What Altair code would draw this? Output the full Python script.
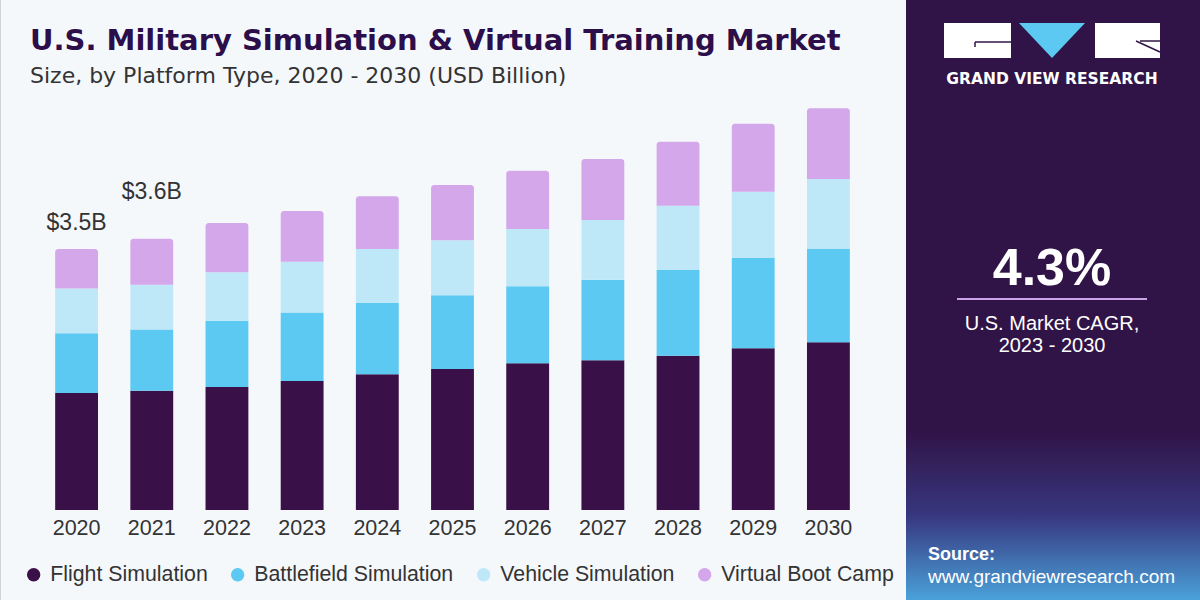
import altair as alt
import pandas as pd

# ---- data (USD billion) ----
years = ["2020", "2021", "2022", "2023", "2024", "2025", "2026", "2027", "2028", "2029", "2030"]
series = ["Flight Simulation", "Battlefield Simulation", "Vehicle Simulation", "Virtual Boot Camp"]
flight = [1.57, 1.60, 1.65, 1.73, 1.82, 1.89, 1.97, 2.01, 2.07, 2.17, 2.25]
battlefield = [0.80, 0.82, 0.89, 0.92, 0.96, 0.99, 1.03, 1.08, 1.15, 1.21, 1.25]
vehicle = [0.60, 0.60, 0.65, 0.68, 0.72, 0.74, 0.77, 0.80, 0.86, 0.89, 0.94]
boot_camp = [0.53, 0.62, 0.66, 0.68, 0.71, 0.74, 0.78, 0.82, 0.86, 0.91, 0.95]
colors = ["#3a1048", "#5cc9f2", "#bee8f8", "#d3a7ea"]

rows = []
for i, yr in enumerate(years):
    for k, vals in enumerate([flight, battlefield, vehicle, boot_camp]):
        rows.append({"year": yr, "series": series[k], "order": k, "value": vals[i]})
df = pd.DataFrame(rows)

# plot-area origin on the 1200x600 canvas
PX, PY = 39, 100
W, H = 827, 410
FONT = "Liberation Sans"
PANEL = "#311447"

stacked = alt.Chart(df).transform_stack(
    stack="value", groupby=["year"],
    sort=[alt.SortField("order", order="ascending")], as_=["y0", "y1"]
)

x_enc = alt.X(
    "year:N", sort=years,
    scale=alt.Scale(paddingInner=0.43, paddingOuter=0.215),
    axis=alt.Axis(title=None, labelAngle=0, domain=False, ticks=False,
                  labelFontSize=21.5, labelColor="#333333", labelFont=FONT,
                  labelPadding=7),
)
y_scale = alt.Scale(domain=[0, 5.5], nice=False, zero=True)
color_enc = alt.Color(
    "series:N", sort=series,
    scale=alt.Scale(domain=series, range=colors),
    legend=alt.Legend(title=None, orient="none", legendX=-16, legendY=464,
                      direction="horizontal", symbolType="circle", symbolSize=180,
                      symbolStrokeWidth=0, symbolOpacity=1, labelFontSize=21.3,
                      labelColor="#333333", labelFont=FONT, columnPadding=19,
                      labelOffset=6, labelLimit=0),
)

lower_bars = stacked.transform_filter(alt.datum.order < 3).mark_bar().encode(
    x=x_enc, y=alt.Y("y1:Q", scale=y_scale, axis=None), y2="y0:Q", color=color_enc
)
top_bars = stacked.transform_filter(alt.datum.order == 3).mark_bar(
    cornerRadiusTopLeft=3, cornerRadiusTopRight=3
).encode(x=x_enc, y=alt.Y("y1:Q", scale=y_scale, axis=None), y2="y0:Q", color=color_enc)

totals = alt.Chart(df).transform_aggregate(
    total="sum(value)", groupby=["year"]
).transform_calculate(
    label="'$' + format(datum.total, '.1f') + 'B'"
)


def total_label(year, lift):
    return totals.transform_filter(alt.datum.year == year).mark_text(
        baseline="alphabetic", fontSize=23, font=FONT, color="#333333", dy=-lift
    ).encode(x=alt.X("year:N", sort=years), y=alt.Y("total:Q", scale=y_scale), text="label:N")


one = pd.DataFrame({"t": [0]})


def text_at(txt, x, y, size, color, weight="normal", align="left", font=FONT):
    return alt.Chart(pd.DataFrame({"t": [txt]})).mark_text(
        align=align, baseline="alphabetic", fontSize=size, fontWeight=weight,
        font=font, color=color
    ).encode(x=alt.value(x - PX), y=alt.value(y - PY), text="t:N")


def box(x1, x2, y1, y2, color):
    return alt.Chart(one).mark_rect(color=color).encode(
        x=alt.value(x1 - PX), x2=alt.value(x2 - PX), y=alt.value(y1 - PY), y2=alt.value(y2 - PY)
    )


def line(x1, y1, x2, y2, color, width):
    return alt.Chart(one).mark_rule(color=color, strokeWidth=width).encode(
        x=alt.value(x1 - PX), x2=alt.value(x2 - PX), y=alt.value(y1 - PY), y2=alt.value(y2 - PY)
    )


# right-hand side panel with a gradient toward blue at the bottom
panel_fill = alt.LinearGradient(
    gradient="linear", x1=0, x2=0, y1=0, y2=1,
    stops=[alt.GradientStop(offset=0, color=PANEL),
           alt.GradientStop(offset=0.72, color=PANEL),
           alt.GradientStop(offset=0.86, color="#37377f"),
           alt.GradientStop(offset=1, color="#4aa2da")],
)
panel = alt.Chart(one).mark_rect(color=panel_fill).encode(
    x=alt.value(906 - PX), x2=alt.value(1200 - PX), y=alt.value(-PY), y2=alt.value(600 - PY)
)

# logo
logo_g = box(944, 1011, 23, 58, "white")
logo_r = box(1095, 1160, 23, 58, "white")
logo_v = alt.Chart(one).mark_point(
    shape="M-1,-0.53L1,-0.53L0,0.53Z", filled=True, opacity=1, size=66 * 66,
    color="#5cc9f2", strokeWidth=0
).encode(x=alt.value(1052 - PX), y=alt.value(40.5 - PY))
logo_lines = [
    line(975, 42, 1011, 42, PANEL, 1.5),
    line(975, 42, 975, 47, PANEL, 1.5),
    line(1140, 41, 1160, 41, PANEL, 1.5),
    line(1136, 41, 1160, 52, PANEL, 1.5),
]
logo_text = text_at("GRAND VIEW RESEARCH", 1052, 84, 15.5, "white", "bold", "center", "DejaVu Sans")

cagr = text_at("4.3%", 1052, 285, 52, "white", "bold", "center")
cagr_rule = line(957, 299, 1147, 299, "#c9a3e6", 2)
cagr_1 = text_at("U.S. Market CAGR,", 1052, 330, 20, "white", "normal", "center")
cagr_2 = text_at("2023 - 2030", 1052, 352, 20, "white", "normal", "center")

src_1 = text_at("Source:", 928, 560, 18, "white", "bold")
src_2 = text_at("www.grandviewresearch.com", 928, 583, 19, "white")

title = text_at("U.S. Military Simulation & Virtual Training Market", 30, 50, 29, "#2c0e4a", "bold", "left", "DejaVu Sans")
subtitle = text_at("Size, by Platform Type, 2020 - 2030 (USD Billion)", 30, 83, 22, "#333333", "normal", "left", "DejaVu Sans")

left_edge = line(0.5, 0, 0.5, 600, "#cfd3d8", 1)

chart = alt.layer(
    panel, left_edge,
    lower_bars, top_bars,
    total_label("2020", 19), total_label("2021", 40),
    logo_g, logo_r, logo_v, *logo_lines, logo_text,
    cagr, cagr_rule, cagr_1, cagr_2, src_1, src_2,
    title, subtitle,
).properties(
    width=W, height=H,
    autosize=alt.AutoSizeParams(type="none"),
    padding={"left": PX, "top": PY, "right": 1200 - PX - W, "bottom": 600 - PY - H},
    background="#f5f8fb",
).configure_view(stroke=None)

chart.save("out.html", embed_options={"renderer": "svg", "actions": False})
